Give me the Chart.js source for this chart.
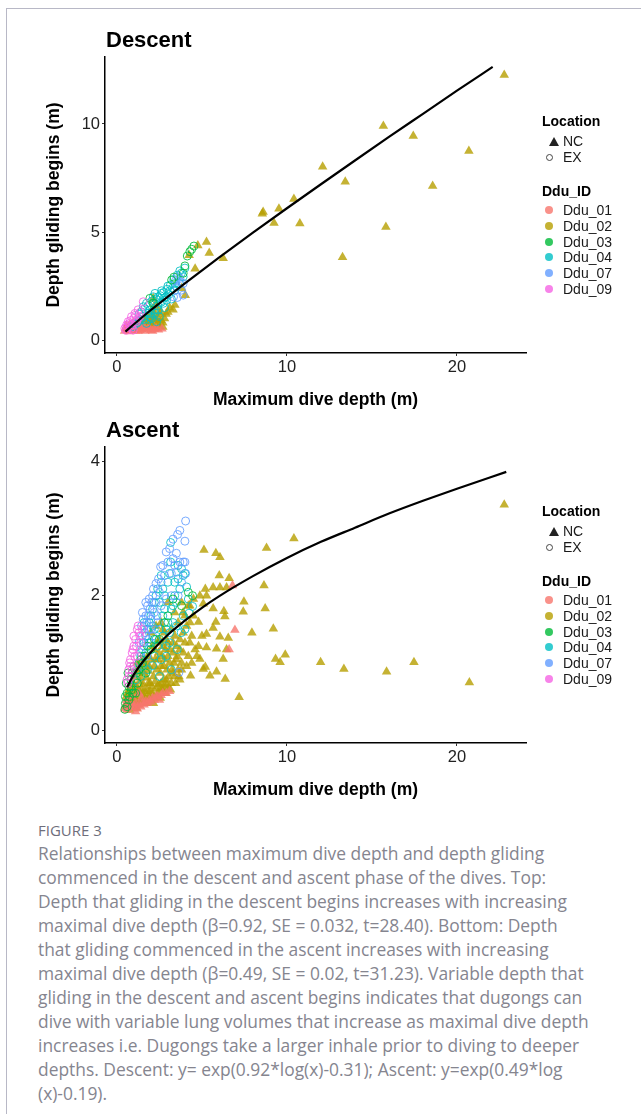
<!DOCTYPE html>
<html>
<head>
<meta charset="utf-8">
<script src="https://cdn.jsdelivr.net/npm/chart.js@4.4.0/dist/chart.umd.min.js"></script>
<style>
  body { margin: 0; background: #fff; }
  #page { position: relative; width: 641px; height: 1114px; overflow: hidden; font-family: "Liberation Sans", Arial, sans-serif; }
  .frameTop { position: absolute; left: 6px; top: 8px; width: 635px; height: 1px; background: #b8b8c6; }
  .frameLeft { position: absolute; left: 6px; top: 8px; width: 1px; height: 1106px; background: #b8b8c6; }
  .panel { position: absolute; left: 0; width: 641px; height: 420px; }
  .ptitle { position: absolute; left: 106px; font-weight: bold; font-size: 22px; line-height: 22px; color: #000; }
  .lg { position: absolute; font-size: 14px; line-height: 16px; color: #1a1a1a; white-space: nowrap; }
  .lg.b { font-weight: bold; color: #000; }
  .sym { position: absolute; }
  .fig { position: absolute; left: 38px; top: 820px; font-family: "Open Sans", Lato, sans-serif; font-size: 15px; line-height: 20px; color: #6e6e7b; }
  .cap { position: absolute; left: 38px; top: 841px; font-family: "Open Sans", Lato, sans-serif; font-size: 17.4px; line-height: 24px; color: #85858f; white-space: nowrap; }
</style>
</head>
<body>
<div id="page">
  <div class="frameTop"></div>
  <div class="frameLeft"></div>

  <div class="panel" style="top:0px"><canvas id="descentChart"></canvas></div>
  <div class="panel" style="top:390px"><canvas id="ascentChart"></canvas></div>

  <div class="ptitle" style="top:29px">Descent</div>
  <div class="ptitle" style="top:419px">Ascent</div>

  <div id="legends"></div>

  <div class="fig">FIGURE 3</div>
  <div class="cap">Relationships between maximum dive depth and depth gliding<br>commenced in the descent and ascent phase of the dives. Top:<br>Depth that gliding in the descent begins increases with increasing<br>maximal dive depth (β=0.92, SE = 0.032, t=28.40). Bottom: Depth<br>that gliding commenced in the ascent increases with increasing<br>maximal dive depth (β=0.49, SE = 0.02, t=31.23). Variable depth that<br>gliding in the descent and ascent begins indicates that dugongs can<br>dive with variable lung volumes that increase as maximal dive depth<br>increases i.e. Dugongs take a larger inhale prior to diving to deeper<br>depths. Descent: y= exp(0.92*log(x)-0.31); Ascent: y=exp(0.49*log<br>(x)-0.19).</div>
</div>

<script>
// ids and colours (ggplot hue palette)
const ddu_ids = ["Ddu_01", "Ddu_02", "Ddu_03", "Ddu_04", "Ddu_07", "Ddu_09"];
const ddu_colors = ["248,118,109", "183,159,0", "0,186,56", "0,191,196", "97,156,255", "245,100,227"];
const locations = ["NC", "EX"];

const xTicks = [0, 10, 20];
const descentYTicks = [0, 5, 10];
const ascentYTicks = [0, 2, 4];

// ---- Descent: [max dive depth, depth gliding begins]
const descent_01_NC = [[0.45,0.42],[0.6,0.5],[0.7,0.4],[0.8,0.55],[0.9,0.45],[1.0,0.6],[1.1,0.42],[1.2,0.5],[1.35,0.45],[1.5,0.55],[1.65,0.42],[1.8,0.5],[2.0,0.45],[2.2,0.5],[2.45,0.48],[2.65,0.52],[0.55,0.65],[0.75,0.72],[0.95,0.8],[1.3,0.7],
  [0.5,0.55],[0.65,0.45],[0.85,0.48],[1.05,0.5],[1.25,0.42],[1.45,0.5],[1.6,0.6],[1.9,0.55],[2.1,0.42],[2.3,0.55],[0.7,0.6],[1.15,0.65]];
const descent_02_NC = [[22.78,12.27],[15.67,9.91],[17.43,9.44],[20.7,8.75],[12.1,8.02],[13.43,7.33],[18.57,7.13],[10.41,6.53],[9.53,6.08],[8.6,5.93],[8.55,5.85],[9.24,5.42],[10.76,5.39],[15.82,5.23],[13.27,3.83],[5.27,4.54],[4.76,4.38],[5.43,4.03],[6.25,3.78],[4.25,3.92],[4.6,3.3],[4.02,2.07],[3.41,1.62],
  [2.14,1.08],[1.94,0.85],[2.33,0.69],[2.14,0.62],[1.74,0.62],[1.55,0.77],[2.04,1.39],[2.24,1.62],[2.14,1.93],[1.35,0.62],[2.43,1.0],[1.84,1.08],[1.65,0.93],[1.16,0.62],[2.24,0.54],[2.53,0.62],[2.7,0.8],[2.9,1.2],[3.1,1.5],[2.6,1.3],
  [1.0,0.55],[1.2,0.7],[1.45,0.55],[1.6,0.7],[1.8,0.8],[1.9,0.6],[2.0,0.75],[2.1,0.9],[2.3,0.95],[2.4,0.75],[2.5,1.2],[2.6,0.9],[2.8,1.0],[3.0,1.3],[2.2,1.3],[2.35,1.5],[1.7,1.0],[2.0,1.2],[3.3,1.4],[3.8,2.4],[2.7,0.6],[1.5,0.62]];
const descent_03_EX = [[4.53,4.35],[4.29,4.09],[4.14,3.89],[4.0,3.43],[3.9,3.09],[3.22,2.78],[3.35,2.91],[2.14,1.71],[1.94,1.93],[4.4,4.2]];
const descent_04_EX = [[2.24,2.16],[2.63,2.28],[3.12,2.28],[2.92,2.0],[3.41,2.62],[3.27,2.4],[3.8,3.1],[4.0,3.33],[3.9,2.93],[1.55,1.54],[1.74,1.7],[1.94,1.39],[2.24,1.24],[2.43,1.39],[1.94,1.08],[1.55,1.08],[1.35,0.93],[2.5,1.08],[2.73,1.7],[2.92,1.85],[2.43,2.0],[2.63,2.16],[2.14,2.0],[1.84,1.24],[1.16,0.77],[0.96,0.62],[1.74,0.77],[2.33,0.85],[3.51,2.47],[3.67,2.62],[3.0,2.5],[3.2,1.9],[2.8,1.5],[1.3,1.2],
  [1.45,1.3],[1.65,1.45],[1.85,1.6],[2.05,1.8],[2.3,1.9],[2.55,2.05],[2.75,2.2],[2.95,2.35],[3.15,2.55],[3.35,2.8],[3.55,3.0],[3.7,3.2],[2.0,1.2],[2.2,1.4],[2.4,1.6],[2.6,1.75],[2.8,1.95],[3.05,2.1],[1.6,0.95],[1.25,0.85],[1.0,0.75],[1.85,0.95],[2.05,1.0],[3.4,2.3]];
const descent_07_EX = [[3.57,2.93],[3.71,2.7],[3.9,2.62],[3.53,2.47],[3.8,2.31],[3.9,2.08],[3.55,1.97],[3.33,2.0],[3.7,2.85],[3.45,2.75]];
const descent_09_EX = [[1.55,1.77],[1.06,1.23],[0.86,1.08],[0.67,0.85],[0.57,0.69],[1.16,0.85],[1.35,1.08],[0.47,0.54],[0.77,0.62],[0.96,0.46],[1.25,1.4],
  [0.6,0.6],[0.7,0.75],[0.8,0.9],[0.9,0.7],[1.0,1.0],[1.1,1.15],[1.2,0.95],[1.4,1.3],[0.55,0.45],[0.85,0.55]];
const descent_fit = [[0.5,0.39],[1,0.73],[2,1.39],[3,2.01],[4,2.62],[6,3.81],[8,4.97],[10,6.10],[12,7.21],[14,8.31],[16,9.40],[18,10.47],[20,11.54],[22.1,12.64]];

// ---- Ascent
const ascent_01_NC = [[0.45,0.32],[0.6,0.3],[0.8,0.33],[1.0,0.36],[1.2,0.32],[1.4,0.35],[1.6,0.38],[1.8,0.4],[2.0,0.42],[2.2,0.45],[2.4,0.5],[2.6,0.52],[0.55,0.45],[0.9,0.5],[1.3,0.55],[6.94,1.49],[6.8,2.15],[6.6,1.2],[2.9,0.55],[1.1,0.28],
  [0.5,0.38],[0.7,0.35],[0.9,0.38],[1.1,0.4],[1.3,0.38],[1.5,0.4],[1.7,0.43],[1.9,0.45],[2.1,0.48],[2.3,0.5],[2.5,0.45],[2.7,0.55],[3.1,0.58],[0.65,0.4],[1.45,0.48]];
const ascent_02_NC = [[22.78,3.35],[10.41,2.85],[8.8,2.71],[5.12,2.68],[5.82,2.63],[6.06,2.57],[6.02,2.30],[6.6,2.26],[8.65,2.15],[7.47,1.91],[8.72,1.81],[7.43,1.76],[6.29,1.77],[7.94,1.45],[9.2,1.51],[9.9,1.12],[9.33,1.06],[9.6,1.01],[11.98,1.01],[13.35,0.91],[15.86,0.87],[17.47,1.01],[20.73,0.71],[7.19,0.49],[6.37,0.76],[5.47,0.81],[5.86,0.87],[4.33,0.81],[5.08,0.91],[5.2,0.94],[4.88,1.06],[6.25,1.06],[6.45,1.2],[5.86,1.21],[5.27,1.23],[6.55,1.37],[6.06,1.39],[5.66,1.52],[5.27,1.43],[4.8,1.61],[5.82,1.61],[6.35,1.69],[5.66,1.81],[5.2,2.1],[5.66,2.12],[6.06,2.12],[6.45,2.12],[4.88,2.0],[5.27,2.0],[5.08,1.88],[4.29,1.85],[4.1,1.55],[4.29,1.3],[3.9,1.15],[3.5,1.05],[3.3,0.85],[3.7,0.75],
  [0.5,0.35],[0.6,0.42],[0.7,0.38],[0.8,0.5],[0.9,0.45],[1.0,0.4],[0.65,0.55],[0.85,0.62],[1.0,0.58],[0.75,0.3],
  [1.1,0.45],[1.2,0.38],[1.3,0.5],[1.4,0.42],[1.5,0.55],[1.6,0.48],[1.7,0.4],[1.8,0.6],[1.9,0.5],[2.0,0.45],[1.15,0.65],[1.35,0.72],[1.55,0.68],[1.75,0.78],[1.95,0.7],[1.25,0.85],[1.45,0.9],[1.65,0.95],[1.85,0.88],[1.5,1.05],[1.8,1.1],[1.2,1.0],[1.05,0.8],
  [2.1,0.55],[2.2,0.48],[2.3,0.62],[2.4,0.52],[2.5,0.6],[2.6,0.7],[2.7,0.58],[2.8,0.66],[2.9,0.75],[3.0,0.62],[2.15,0.8],[2.35,0.9],[2.55,0.85],[2.75,0.95],[2.95,0.9],[2.25,1.05],[2.45,1.15],[2.65,1.1],[2.85,1.2],[2.1,1.25],[2.5,1.35],[2.8,1.45],[2.3,1.55],[2.6,1.6],[3.0,1.3],
  [3.2,0.7],[3.4,0.8],[3.6,0.9],[3.1,1.0],[3.3,1.15],[3.5,1.25],[3.7,1.35],[3.9,1.45],[3.2,1.5],[3.6,1.6],[4.0,1.7],[3.8,1.0],[4.2,1.1],[4.4,1.4],[3.4,1.75],[3.0,1.9],[3.8,1.9],[4.5,1.95],[4.1,0.95],[4.6,1.2],[4.5,1.7],[4.8,1.25],[4.7,1.1],
  [0.55,0.5],[0.7,0.6],[0.95,0.7],[1.05,0.5],[1.15,0.33],[1.25,0.6],[1.35,0.4],[1.45,0.62],[1.55,0.45],[1.65,0.58],[1.75,0.5],[1.85,0.7],[1.95,0.58],[2.05,0.65],[2.15,0.4],[2.25,0.72],[2.35,0.5],[2.45,0.68],[2.55,0.48],[2.65,0.62],[2.75,0.75],[2.85,0.55],[2.95,0.68],[3.05,0.8],[3.15,0.6],[3.25,0.9],[3.35,1.0],[3.45,0.7],[3.55,1.1],[3.65,0.8],
  [1.4,0.78],[1.6,0.85],[1.7,1.0],[1.9,0.95],[2.0,1.05],[2.2,0.95],[2.4,1.05],[2.6,0.95],[2.8,1.05],[3.0,1.1],[2.2,1.2],[2.4,1.3],[2.7,1.25],[2.9,1.35],[3.1,1.2],[3.4,1.4],[2.0,1.45],[2.7,1.5],[3.3,1.3],[3.7,1.2],[4.0,1.3],[4.3,1.6],[3.9,1.75],[4.2,1.85],[1.3,0.95],[1.0,0.68],[0.8,0.4],[3.8,0.9],[4.4,1.0],[5.0,1.4]];
const ascent_03_EX = [[0.47,0.31],[0.5,0.4],[1.1,0.55],[0.82,0.75],[4.45,2.0],[0.6,0.55],[0.7,0.65],[0.9,0.85],[1.0,0.95],[1.2,0.7],[1.3,0.9],[0.55,0.7],[1.5,1.0],[2.0,1.2],[2.5,1.35],[3.0,1.7],[3.8,1.85],[4.2,2.05],[1.7,0.85],[0.65,0.85],
  [0.5,0.5],[0.6,0.35],[0.75,0.5],[0.85,0.6],[0.95,0.55],[1.15,0.85],[1.4,1.05],[1.6,1.1],[1.8,1.25],[2.2,1.35],[2.8,1.6],[3.3,1.95],[0.7,0.45]];
const ascent_04_EX = [[3.16,2.79],[3.1,2.33],[4.1,2.13],[4.45,1.84],[4.25,1.74],[3.78,1.45],[3.55,1.2],[2.9,1.1],[2.1,0.96],[1.3,1.0],[1.5,1.2],[1.7,1.4],[1.9,1.6],[2.1,1.8],[2.3,2.0],[2.5,1.9],[2.7,1.7],[2.9,1.5],[3.1,1.3],[3.3,1.6],[3.5,1.9],[3.7,2.1],[3.9,2.3],[3.6,2.45],[3.4,2.2],[2.0,1.3],[2.2,1.5],[2.4,1.25],[2.6,1.05],[1.8,0.9],[1.6,1.6],[2.8,2.0],[3.0,2.2],[4.0,1.5],[3.2,0.9],[1.4,0.8],[1.1,0.75],[0.9,0.65],[2.5,0.8],[4.0,2.33],
  [1.2,0.9],[1.4,1.1],[1.6,1.3],[1.8,1.5],[2.0,1.7],[2.2,1.9],[2.4,2.1],[2.6,2.3],[2.8,1.8],[3.0,1.6],[3.2,1.8],[3.4,2.0],[3.6,2.25],[3.8,2.4],[2.3,1.35],[2.5,1.5],[2.7,1.4],[2.9,1.25],[3.1,1.45],[3.3,1.85],[1.7,1.15],[1.9,1.3],[2.1,1.55],[3.5,1.55],[3.9,1.7],[4.2,1.95],[3.16,2.5],[2.7,2.1],[2.2,1.1],[1.5,0.95]];
const ascent_07_EX = [[4.04,3.11],[3.7,2.97],[3.57,2.91],[4.0,2.81],[3.3,2.84],[2.57,2.43],[3.5,2.63],[3.9,2.5],[3.7,2.5],[4.0,2.5],[3.2,2.33],[4.04,2.33],[2.3,2.18],[2.6,2.2],[2.1,2.0],[2.9,1.95],[3.65,0.86],[1.5,1.4],[1.6,1.55],[1.7,1.7],[1.8,1.85],[1.9,1.5],[2.0,1.65],[1.6,1.25],[1.75,1.1],[1.9,1.95],[2.2,1.75],[2.4,1.6],[2.6,1.85],[2.8,2.3],[3.0,2.5],[3.4,2.45],[3.8,2.2],[1.4,1.15],[1.3,1.3],[2.1,1.4],[2.5,2.05],[3.2,2.0],[3.6,2.0],[1.5,1.75],
  [1.45,1.55],[1.55,1.65],[1.65,1.45],[1.75,1.6],[1.85,1.7],[1.95,1.8],[2.05,1.9],[1.55,1.3],[1.7,1.9],[2.15,2.1],[2.3,1.9],[2.45,2.25],[2.7,2.45],[2.9,2.65],[3.1,2.7],[3.3,2.55],[3.5,2.35],[2.0,1.5],[1.85,1.35],[2.35,1.7]];
const ascent_09_EX = [[1.3,1.45],[1.0,1.25],[0.8,1.05],[0.7,0.9],[0.9,1.15],[1.1,1.35],[1.2,1.1],[0.6,0.75],[1.4,1.3],[1.5,1.5],[1.0,0.95],[0.85,0.8],[1.25,1.55],[0.75,1.0],
  [0.65,0.7],[0.9,0.9],[1.05,1.1],[1.15,1.25],[1.35,1.4],[0.8,0.95],[1.0,1.4],[1.2,1.5],[0.95,1.2],[0.7,0.8]];
const ascent_fit = [[0.6,0.64],[0.8,0.74],[1,0.83],[1.5,1.01],[2,1.16],[3,1.42],[4,1.63],[5,1.82],[6,1.99],[8,2.29],[10,2.56],[12,2.80],[14,3.01],[16,3.22],[18,3.41],[20,3.59],[22.9,3.84]];

const FONT = "'Liberation Sans', Arial, sans-serif";
const pts = (arr) => arr.map(([x, y]) => ({ x, y }));

function pointSet(data, idIndex, loc) {
  const c = ddu_colors[idIndex];
  if (loc === "NC") {
    return { data: pts(data), pointStyle: "triangle", pointRadius: 5.5, borderWidth: 0,
      backgroundColor: `rgba(${c},0.8)`, borderColor: `rgba(${c},0.8)` };
  }
  return { data: pts(data), pointStyle: "circle", pointRadius: 4, borderWidth: 1,
    backgroundColor: "rgba(0,0,0,0)", borderColor: `rgba(${c},0.85)` };
}

function makePanel(canvasId, sets, fit, yMin, yMax, yTicks) {
  const datasets = [
    { data: pts(fit), showLine: true, pointRadius: 0, borderColor: "#000", borderWidth: 2.2,
      cubicInterpolationMode: "monotone", fill: false },
    ...sets,
  ];
  new Chart(document.getElementById(canvasId), {
    type: "scatter",
    data: { datasets },
    options: {
      responsive: true,
      maintainAspectRatio: false,
      animation: false,
      events: [],
      layout: { padding: { left: 0, right: 115, top: 57, bottom: 7 } },
      plugins: { legend: { display: false }, tooltip: { enabled: false } },
      scales: {
        x: {
          type: "linear", min: -0.7, max: 24.06,
          afterFit: (s) => { s.height = 60; },
          afterBuildTicks: (s) => { s.ticks = xTicks.map((v) => ({ value: v })); },
          grid: { drawOnChartArea: false, drawTicks: true, tickLength: 3, color: "#333" },
          border: { display: true, color: "#000", width: 1.5 },
          ticks: { font: { family: FONT, size: 16.5 }, color: "#222", padding: 2, maxRotation: 0, autoSkip: false },
          title: { display: true, text: "Maximum dive depth (m)", color: "#000",
            font: { family: FONT, size: 17.5, weight: "bold" }, padding: { top: 0, bottom: 2 } },
        },
        y: {
          type: "linear", min: yMin, max: yMax,
          afterFit: (s) => { s.width = 105; },
          afterBuildTicks: (s) => { s.ticks = yTicks.map((v) => ({ value: v })); },
          grid: { drawOnChartArea: false, drawTicks: true, tickLength: 3, color: "#333" },
          border: { display: true, color: "#000", width: 1.5 },
          ticks: { font: { family: FONT, size: 16.5 }, color: "#222", padding: 2, autoSkip: false },
          title: { display: true, text: "Depth gliding begins (m)", color: "#000",
            font: { family: FONT, size: 17.5, weight: "bold" }, padding: { top: 44, bottom: 0 } },
        },
      },
    },
  });
}

// draw order: first dataset on top
makePanel("descentChart", [
  pointSet(descent_09_EX, 5, "EX"),
  pointSet(descent_03_EX, 2, "EX"),
  pointSet(descent_07_EX, 4, "EX"),
  pointSet(descent_04_EX, 3, "EX"),
  pointSet(descent_01_NC, 0, "NC"),
  pointSet(descent_02_NC, 1, "NC"),
], descent_fit, -0.6, 13.1, descentYTicks);

makePanel("ascentChart", [
  pointSet(ascent_09_EX, 5, "EX"),
  pointSet(ascent_03_EX, 2, "EX"),
  pointSet(ascent_07_EX, 4, "EX"),
  pointSet(ascent_04_EX, 3, "EX"),
  pointSet(ascent_01_NC, 0, "NC"),
  pointSet(ascent_02_NC, 1, "NC"),
], ascent_fit, -0.19, 4.21, ascentYTicks);

// legends (same layout in both panels, shifted by 390px)
function addLegend(off) {
  const host = document.getElementById("legends");
  const text = (t, x, cy, bold) => {
    const d = document.createElement("div");
    d.className = bold ? "lg b" : "lg";
    d.textContent = t;
    d.style.left = x + "px";
    d.style.top = (cy - 8 + off) + "px";
    host.appendChild(d);
  };
  const sym = (cx, cy, css) => {
    const d = document.createElement("div");
    d.className = "sym";
    Object.assign(d.style, css);
    d.style.left = (cx - parseFloat(css.width) / 2) + "px";
    d.style.top = (cy - parseFloat(css.height) / 2 + off) + "px";
    host.appendChild(d);
  };
  text("Location", 542, 121, true);
  sym(549, 141, { width: "0px", height: "9px", borderLeft: "5px solid transparent", borderRight: "5px solid transparent", borderBottom: "9px solid #222", boxSizing: "border-box" });
  text(locations[0], 563, 141, false);
  sym(549, 157, { width: "7px", height: "7px", border: "1px solid #444", borderRadius: "50%", boxSizing: "border-box" });
  text(locations[1], 563, 157, false);
  text("Ddu_ID", 542, 191, true);
  ddu_ids.forEach((id, i) => {
    const cy = 210 + i * 15.8;
    sym(549, cy, { width: "8px", height: "8px", borderRadius: "50%", background: `rgba(${ddu_colors[i]},0.8)` });
    text(id, 563, cy, false);
  });
}
addLegend(0);
addLegend(390);
</script>
</body>
</html>
